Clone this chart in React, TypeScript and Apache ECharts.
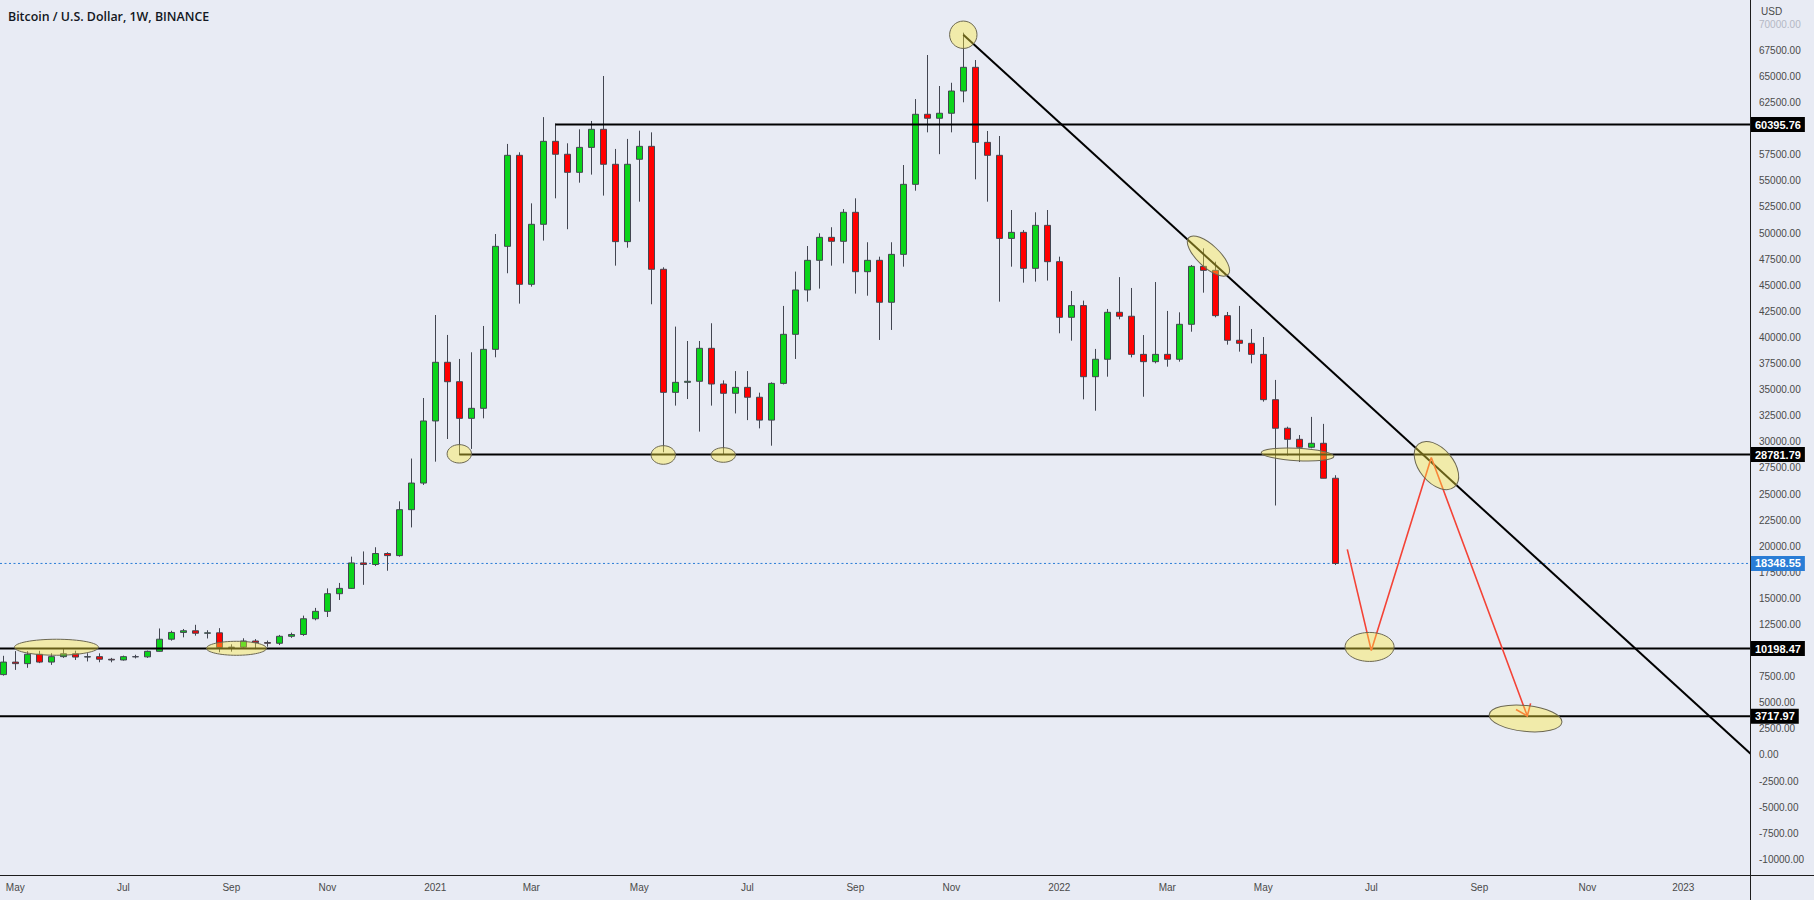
import React, { useEffect, useRef } from 'react';
import * as echarts from 'echarts';

const DAY = 86400000;
const utc = (s: string) => {
  const [y, m, d] = s.split('-').map(Number);
  return Date.UTC(y, m - 1, d);
};

// ---- weekly candles (Monday open), first week below ----
const firstWeek = '2020-04-27';
const opens = [
  7700, 8900, 8750, 9650, 8900, 9420, 9700, 9380, 9420, 9170, 9100, 9420, 9400, 9930,
  11090, 11740, 11900, 11660, 11700, 10300, 10330, 10920, 10770, 10700, 11370, 11540, 13050, 13760,
  15450, 15960, 18400, 18250, 19300, 19100, 23500, 26050, 32000, 37620, 35760, 32250, 33210, 38860,
  48730, 57450, 45090, 50840, 58790, 57550, 55820, 58210, 59940, 56590, 49180, 57070, 58310, 46530,
  34740, 35700, 35800, 38960, 35540, 34650, 35220, 34270, 32080, 35600, 40300, 44550, 47390, 49590,
  49210, 51990, 46300, 47390, 43370, 47960, 54670, 61380, 61000, 61480, 63610, 65880, 58690, 57450,
  49490, 50070, 46620, 50740, 47260, 41930, 43050, 36240, 37910, 42410, 42030, 38380, 37680, 38380,
  37910, 41260, 46810, 46430, 42090, 39730, 39440, 38380, 34040, 31300, 30240, 29480, 29860, 26510,
];
const closes = [
  8900, 8750, 9650, 8900, 9420, 9700, 9380, 9420, 9170, 9100, 9420, 9400, 9930, 11090,
  11740, 11900, 11660, 11700, 10300, 10330, 10920, 10770, 10700, 11370, 11540, 13050, 13760, 15450,
  15960, 18400, 18250, 19300, 19100, 23500, 26050, 32000, 37620, 35760, 32250, 33210, 38860, 48730,
  57450, 45090, 50840, 58790, 57550, 55820, 58210, 59940, 56590, 49180, 56590, 58310, 46530, 34740,
  35700, 35800, 38960, 35540, 34650, 35220, 34270, 32080, 35600, 40300, 44550, 47390, 49590, 49210,
  51990, 46300, 47390, 43370, 47960, 54670, 61380, 61000, 61480, 63610, 65880, 58690, 57450, 49490,
  50070, 46620, 50740, 47260, 41930, 43050, 36240, 37910, 42410, 42030, 38380, 37680, 38380, 37910,
  41260, 46810, 46430, 42090, 39730, 39440, 38380, 34040, 31300, 30240, 29480, 29860, 26510, 18348.55,
];
const highs = [
  9500, 9950, 9950, 9980, 9750, 10150, 9990, 9750, 9740, 9300, 9520, 9600, 10000, 12120,
  11900, 12070, 12470, 11950, 12150, 10600, 11180, 11100, 10960, 11500, 11720, 13350, 14090, 15960,
  16480, 19000, 19500, 19900, 19420, 24300, 28400, 34200, 42150, 40240, 37940, 38580, 41100, 49910,
  58540, 57740, 52850, 61110, 60500, 58600, 59940, 60740, 65050, 58060, 59020, 59810, 59650, 46720,
  41040, 39660, 39660, 41360, 35890, 36780, 36780, 34710, 35700, 43020, 46310, 48760, 49980, 50560,
  52300, 53330, 49120, 47740, 49120, 56520, 62840, 67060, 64090, 64400, 69200, 66580, 59780, 59300,
  52210, 50290, 51990, 52210, 47740, 44450, 43530, 38900, 42730, 45780, 44740, 40230, 45310, 42540,
  42410, 46940, 48540, 47260, 42440, 43020, 40810, 40040, 35930, 31450, 30650, 32390, 31720, 26800,
];
const lows = [
  7600, 8150, 8350, 8800, 8630, 9300, 9100, 8960, 8880, 8880, 9040, 9250, 9300, 9900,
  10950, 11270, 11430, 11160, 9840, 9900, 10200, 10140, 10370, 10530, 11220, 11410, 12900, 13220,
  14850, 15900, 16300, 18100, 17650, 19000, 21800, 25870, 28100, 30270, 28740, 29320, 32250, 38100,
  46150, 43240, 44870, 49280, 53330, 50370, 54830, 55600, 53590, 46880, 48600, 53010, 43180, 29000,
  33470, 34100, 30980, 33470, 28800, 32720, 32080, 31290, 29630, 35500, 37940, 43430, 44680, 46880,
  47100, 44200, 44000, 39760, 40720, 46780, 54060, 59650, 57560, 59650, 62530, 55150, 53010, 43430,
  46780, 45250, 45350, 45450, 40400, 39690, 34070, 32980, 36240, 41740, 38090, 34320, 37520, 37200,
  37680, 40550, 44290, 41930, 39310, 38640, 37520, 33850, 23900, 28680, 28070, 29380, 26500, 18200,
];

// ---- axis ticks ----
const yTicks = [
  -10000, -7500, -5000, -2500, 0, 2500, 5000, 7500, 12500, 15000, 17500, 20000, 22500, 25000,
  27500, 30000, 32500, 35000, 37500, 40000, 42500, 45000, 47500, 50000, 52500, 55000, 57500,
  62500, 65000, 67500, 70000,
];
const xLabelDates = [
  '2020-05-04', '2020-07-06', '2020-09-07', '2020-11-02', '2021-01-04', '2021-03-01', '2021-05-03',
  '2021-07-05', '2021-09-06', '2021-11-01', '2022-01-03', '2022-03-07', '2022-05-02', '2022-07-04',
  '2022-09-05', '2022-11-07', '2023-01-02',
];
const xLabelTexts = ['May', 'Jul', 'Sep', 'Nov', '2021', 'Mar', 'May', 'Jul', 'Sep', 'Nov', '2022', 'Mar', 'May', 'Jul', 'Sep', 'Nov', '2023'];

// ---- drawings ----
const levelPrices = [60395.76, 28781.79, 10198.47, 3717.97];
const levelStarts = ['2021-03-15', '2021-01-18', '', ''];
const lastPrice = 18348.55;
const trendPoints: [string, number][] = [['2021-11-08', 69000], ['2023-02-11', 0]];
const arrowPoints: [string, number][] = [['2022-06-20', 19700], ['2022-07-04', 10000], ['2022-08-08', 28500], ['2022-10-03', 3740]];
const ellipseCenters: [string, number][] = [
  ['2021-11-08', 69000], ['2022-03-31', 47800], ['2021-01-18', 28850], ['2021-05-17', 28740],
  ['2021-06-21', 28740], ['2020-05-28', 10320], ['2020-09-10', 10220], ['2022-05-22', 28790],
  ['2022-07-03', 10350], ['2022-08-11', 27730], ['2022-10-02', 3500],
];
// [rx, ry, rotation deg]
const ellipseShapes = [
  [13.7, 13.7, 0], [27, 11, -43], [12.2, 9.2, 0], [12.2, 9.3, 0], [12.2, 7.3, 0], [42, 8, 0],
  [30, 7, 0], [36.3, 6.2, -3], [24.5, 14.5, 0], [28, 17, -50], [36.5, 13, -6],
];

const W = 1814;
const H = 900;
const GRID_RIGHT = 64;
const GRID_BOTTOM = 25;
const PLOT_W = W - GRID_RIGHT;
const PX_PER_WEEK = 12;
const xMin = utc(firstWeek) - (3.3 / PX_PER_WEEK) * 7 * DAY;
const xMax = xMin + (PLOT_W / PX_PER_WEEK) * 7 * DAY;
const yMin = -11500;
const yMax = 72330;

const BG = '#e8ebf4';
const TXT = '#4a4a4a';
const FONT = '"Liberation Sans", Arial, sans-serif';
const UP = '#0bd41a';
const DOWN = '#ff0000';
const EDGE = '#434651';
const RED = '#f44336';
const BLUE = '#2a7dd6';

export default function App() {
  const ref = useRef<HTMLDivElement>(null);
  useEffect(() => {
    document.body.style.margin = '0';
    document.body.style.background = BG;
    const chart = echarts.init(ref.current!, null, { renderer: 'svg' });
    const t0 = utc(firstWeek);
    const candles = opens.map((o, i) => [t0 + i * 7 * DAY, o, closes[i], lows[i], highs[i]]);

    const lineSeries = (data: number[][], color: string, width: number, z: number, type: any = 'solid') => ({
      type: 'line',
      data,
      symbol: 'none',
      showSymbol: false,
      silent: true,
      clip: true,
      z,
      lineStyle: { color, width, type },
    });

    const series: any[] = [
      lineSeries([[xMin, lastPrice], [xMax, lastPrice]], BLUE, 1, 1, [2, 2.5]),
      {
        type: 'candlestick',
        data: candles,
        barWidth: 7,
        z: 2,
        clip: true,
        itemStyle: { color: UP, color0: DOWN, borderColor: EDGE, borderColor0: EDGE, borderWidth: 1 },
      },
      ...levelPrices.map((p, k) =>
        lineSeries([[levelStarts[k] ? utc(levelStarts[k]) : xMin, p], [xMax, p]], '#000', 2, 3)
      ),
      lineSeries(trendPoints.map(([d, v]) => [utc(d), v]), '#000', 2, 3),
      lineSeries(arrowPoints.map(([d, v]) => [utc(d), v]), RED, 1.6, 4),
    ];

    chart.setOption({
      animation: false,
      backgroundColor: BG,
      grid: { left: 0, right: GRID_RIGHT, top: 0, bottom: GRID_BOTTOM, containLabel: false },
      xAxis: {
        type: 'value',
        min: xMin,
        max: xMax,
        axisLine: { show: false },
        axisTick: { show: false },
        splitLine: { show: false },
        axisLabel: {
          customValues: xLabelDates.map(utc),
          formatter: (v: number) => {
            const k = xLabelDates.findIndex((d) => Math.abs(utc(d) - v) < DAY);
            return k >= 0 ? xLabelTexts[k] : '';
          },
          color: TXT,
          fontSize: 10,
          fontFamily: FONT,
          margin: 7,
          hideOverlap: false,
        },
      },
      yAxis: {
        type: 'value',
        position: 'right',
        min: yMin,
        max: yMax,
        axisLine: { show: false },
        axisTick: { show: false },
        splitLine: { show: false },
        axisLabel: {
          customValues: yTicks,
          formatter: (v: number) => (v === 70000 ? '{fade|' + v.toFixed(2) + '}' : v.toFixed(2)),
          color: TXT,
          fontSize: 10,
          fontFamily: FONT,
          margin: 9,
          rich: { fade: { color: '#b4b8c4', fontSize: 10, fontFamily: FONT } },
        },
      },
      series,
    });

    const px = (t: number, v: number) => chart.convertToPixel({ xAxisIndex: 0, yAxisIndex: 0 }, [t, v]) as number[];

    const g: any[] = [];
    g.push({
      type: 'text', x: 8, y: 16, z: 100,
      style: { text: 'Bitcoin / U.S. Dollar, 1W, BINANCE', fill: '#131722', font: '600 12.4px "Open Sans", sans-serif', verticalAlign: 'middle' },
    });
    g.push({
      type: 'text', x: 1761, y: 11.5, z: 100,
      style: { text: 'USD', fill: TXT, font: '10px ' + FONT, verticalAlign: 'middle' },
    });
    g.push({ type: 'line', z: 100, shape: { x1: PLOT_W + 0.5, y1: 0, x2: PLOT_W + 0.5, y2: H }, style: { stroke: '#1c1c1c', lineWidth: 1 } });
    g.push({ type: 'line', z: 100, shape: { x1: 0, y1: H - GRID_BOTTOM + 0.5, x2: W, y2: H - GRID_BOTTOM + 0.5 }, style: { stroke: '#1c1c1c', lineWidth: 1 } });

    // arrow head at end of the red path
    const a = px(utc(arrowPoints[arrowPoints.length - 2][0]), arrowPoints[arrowPoints.length - 2][1]);
    const b = px(utc(arrowPoints[arrowPoints.length - 1][0]), arrowPoints[arrowPoints.length - 1][1]);
    const len = Math.hypot(b[0] - a[0], b[1] - a[1]);
    const bx = (a[0] - b[0]) / len;
    const by = (a[1] - b[1]) / len;
    const wing = (ang: number) => {
      const r = (ang * Math.PI) / 180;
      return [b[0] + 13 * (bx * Math.cos(r) - by * Math.sin(r)), b[1] + 13 * (bx * Math.sin(r) + by * Math.cos(r))];
    };
    g.push({ type: 'polyline', z: 99, shape: { points: [wing(-40), b, wing(35)] }, style: { stroke: RED, lineWidth: 1.6, fill: null } });

    // ellipses
    ellipseCenters.forEach(([d, v], k) => {
      const c = px(utc(d), v);
      const [rx, ry, rot] = ellipseShapes[k];
      g.push({
        type: 'ellipse', x: c[0], y: c[1], rotation: (rot * Math.PI) / 180, z: 105,
        shape: { cx: 0, cy: 0, rx, ry },
        style: { fill: 'rgba(255,235,59,0.4)', stroke: '#6c6852', lineWidth: 1 },
      });
    });

    // price labels on the axis
    levelPrices.forEach((p) => {
      const y = px(xMax, p)[1];
      g.push({
        type: 'text', x: PLOT_W + 1, y, z: 110,
        style: { text: p.toFixed(2), fill: '#fff', backgroundColor: '#000', padding: [2, 4, 2, 4], font: 'bold 11px ' + FONT, verticalAlign: 'middle' },
      });
    });
    g.push({
      type: 'text', x: PLOT_W + 1, y: px(xMax, lastPrice)[1], z: 110,
      style: { text: lastPrice.toFixed(2), fill: '#fff', backgroundColor: BLUE, padding: [2, 4, 2, 4], font: 'bold 11px ' + FONT, verticalAlign: 'middle' },
    });

    chart.setOption({ graphic: g });
    return () => chart.dispose();
  }, []);
  return <div ref={ref} style={{ position: 'absolute', left: 0, top: 0, width: W, height: H }} />;
}
